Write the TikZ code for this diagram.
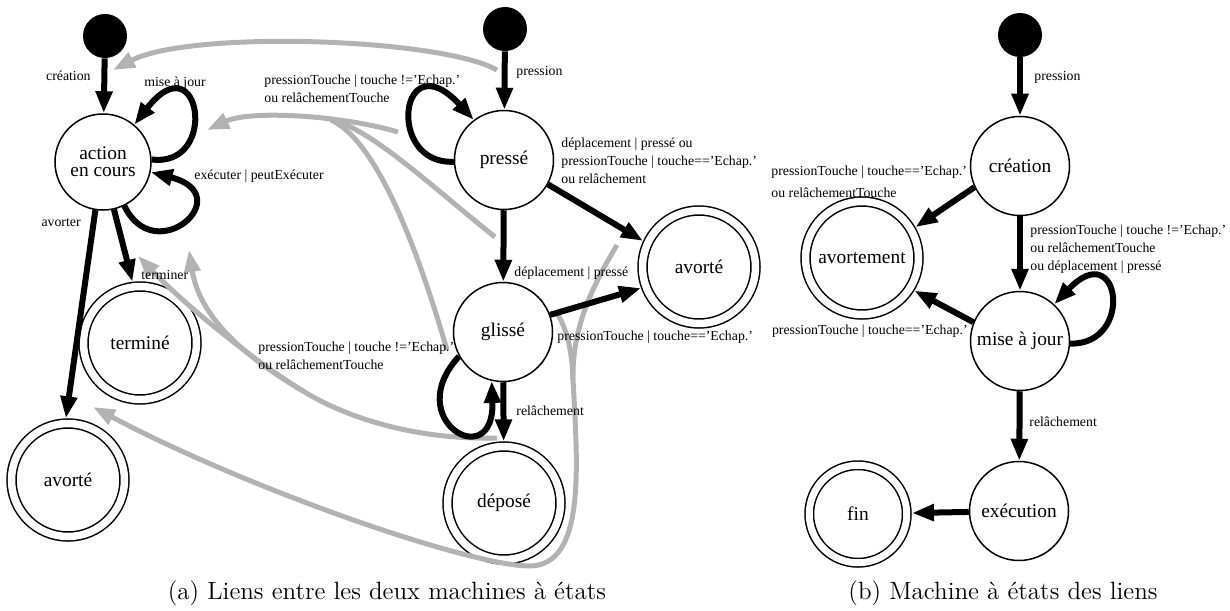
\documentclass[tikz,border=0pt]{standalone}
\usepackage{fontspec}
\newfontfamily\etatfont[Ligatures=TeX]{Liberation Serif}
\usepackage{tikz}
\usetikzlibrary{arrows.meta}
\usepackage{xcolor}
\definecolor{liengris}{RGB}{178,178,178}
\tikzset{
  etat/.style    = {circle,draw,line width=.75pt,minimum size=49.5pt,inner sep=0pt,
                    align=center,font=\etatfont\fontsize{9.7}{8.6}\selectfont},
  final/.style   = {etat,double,double distance=3.75pt,minimum size=56.5pt,outer sep=2.6pt},
  init/.style    = {circle,fill=black,minimum size=22pt,inner sep=0pt},
  trans/.style   = {line width=3pt,-{Triangle[length=11pt,width=8pt]}},
  lien/.style    = {line width=2.5pt,color=liengris,-{Triangle[length=11pt,width=8pt]}},
  lienj/.style   = {line width=2.5pt,color=liengris},
  etiq/.style    = {font=\etatfont\fontsize{6.9}{9}\selectfont,inner sep=0pt,align=left},
  legende/.style = {font=\fontsize{12.5}{15}\selectfont,inner sep=0pt},
}

\begin{document}
\begin{tikzpicture}[x=0.5pt,y=-0.5pt]
  \useasboundingbox (0,0) rectangle (1230,610);

  % (a) action et interaction
  \node[init] (i1) at (105,36) {};
  \node[etat,minimum size=48pt] (act) at (103,162) {action\\en cours};
  \node[final] (term) at (140,343) {terminé};
  \node[final] (avl) at (68,480) {avorté};
  \node[init] (i2) at (505,29) {};
  \node[etat] (presse) at (504,160) {pressé};
  \node[etat] (glisse) at (503,332) {glissé};
  \node[final] (depose) at (504,503) {déposé};
  \node[final] (avr) at (699,267) {avorté};

  % (b) machine des liens
  \node[init] (i3) at (1020,35) {};
  \node[etat] (crea) at (1020,166) {création};
  \node[final] (avm) at (862,258) {avortement};
  \node[etat] (maj) at (1020,341) {mise à jour};
  \node[etat] (exe) at (1019,511) {exécution};
  \node[final,minimum size=48.75pt,double distance=3.5pt] (fin) at (858,514) {fin};

  % liens gris
  \coordinate (cPression) at (497,70);
  \coordinate (cCreation) at (113,70);
  \coordinate (cPresseBcl) at (398,132);
  \coordinate (cMaj) at (207,130);
  \coordinate (cJoinMaj) at (331,120);
  \coordinate (cDeplPresse) at (495,237);
  \coordinate (cGlisseBcl) at (447,350);
  \coordinate (cRelache) at (497,438);
  \coordinate (cJoinRel) at (303,391);
  \coordinate (cTerminer) at (138,256);
  \coordinate (cExecuter) at (189,250);
  \coordinate (cDeplAvorte) at (617,245);
  \coordinate (cGlisseAvorte) at (557,313);
  \coordinate (cJoinAv) at (573,380);
  \coordinate (cAvorter) at (93,407);

  \draw[lien] (cPression) .. controls (440,38) and (190,30) .. (cCreation);
  \draw[lien] (cPresseBcl) .. controls (340,115) and (250,110) .. (cMaj);
  \draw[lienj] (cDeplPresse) .. controls (430,185) and (370,128) .. (cJoinMaj);
  \draw[lienj] (cGlisseBcl) .. controls (415,240) and (375,140) .. (cJoinMaj);
  \draw[lienj] (cRelache) .. controls (420,440) and (350,420) .. (cJoinRel);
  \draw[lien] (cJoinRel) .. controls (260,365) and (190,310) .. (cTerminer);
  \draw[lien] (cJoinRel) .. controls (250,360) and (200,320) .. (cExecuter);
  \draw[lienj] (cGlisseAvorte) .. controls (567,330) and (572,350) .. (cJoinAv);
  \draw[lien] (cDeplAvorte) .. controls (590,290) and (572,330) .. (cJoinAv)
        .. controls (578,470) and (585,565) .. (530,566)
        .. controls (470,566) and (250,490) .. (cAvorter);

  % transitions (a)
  \draw[trans] (i1) -- (act);
  \draw[trans] (act.3) .. controls (220,168) and (200,40) .. (act.50);
  \draw[trans] (act.-64) .. controls (155,270) and (240,195) .. (act.-12);
  \draw[trans] (act.-77) -- (term.97);
  \draw[trans] (act.-99) -- (avl.92);
  \draw[trans] (i2) -- (presse);
  \draw[trans] (presse.182) .. controls (385,165) and (400,40) .. (presse.127);
  \draw[trans] (presse) -- (glisse);
  \draw[trans] (presse.-29) -- (avr.155);
  \draw[trans] (glisse.20) -- (avr.200);
  \draw[trans] (glisse.209) .. controls (400,420) and (495,475) .. (glisse.257);
  \draw[trans] (glisse) -- (depose);

  % transitions (b)
  \draw[trans] (i3) -- (crea);
  \draw[trans] (crea.205) -- (avm.30);
  \draw[trans] (crea) -- (maj);
  \draw[trans] (maj.-3) .. controls (1135,345) and (1120,235) .. (maj.47);
  \draw[trans] (maj.158) -- (avm.-32);
  \draw[trans] (maj) -- (exe);
  \draw[trans] (exe) -- (fin);

  % etiquettes
  \node[etiq,anchor=east] (lCreation) at (91,76) {création};
  \node[etiq] (lMajBcl) at (175,83) {mise à jour};
  \node[etiq,anchor=west] (lExec) at (194,176) {exécuter | peutExécuter};
  \node[etiq,anchor=east] (lAvorter) at (81,223) {avorter};
  \node[etiq,anchor=west] (lTerminer) at (141,275) {terminer};
  \node[etiq,anchor=west] (lPression) at (516,72) {pression};
  \node[etiq,anchor=west] (lPresseBcl) at (264,89)
        {pressionTouche | touche !='Echap.'\\ou relâchementTouche};
  \node[etiq,anchor=west] (lPresseAv) at (561,161)
        {déplacement | pressé ou\\pressionTouche | touche=='Echap.'\\ou relâchement};
  \node[etiq,anchor=west] (lDepl) at (514,273) {déplacement | pressé};
  \node[etiq,anchor=west] (lGlisseAv) at (557,337) {pressionTouche | touche=='Echap.'};
  \node[etiq,anchor=west] (lGlisseBcl) at (258,356)
        {pressionTouche | touche !='Echap.'\\ou relâchementTouche};
  \node[etiq,anchor=west] (lRelache) at (516,411) {relâchement};

  \node[etiq,anchor=west] (lPression2) at (1034,77) {pression};
  \node[etiq,anchor=west] (lCreaAv) at (771,182)
        {pressionTouche | touche=='Echap.'\\[2pt]ou relâchementTouche};
  \node[etiq,anchor=west] (lCreaMaj) at (1030,249)
        {pressionTouche | touche !='Echap.'\\ou relâchementTouche\\ou déplacement | pressé};
  \node[etiq,anchor=east] (lMajAv) at (968,331) {pressionTouche | touche=='Echap.'};
  \node[etiq,anchor=west] (lRelache2) at (1029,422) {relâchement};

  \node[legende] (capA) at (387,593) {(a) Liens entre les deux machines à états};
  \node[legende] (capB) at (1003,593) {(b) Machine à états des liens};
\end{tikzpicture}
\end{document}
